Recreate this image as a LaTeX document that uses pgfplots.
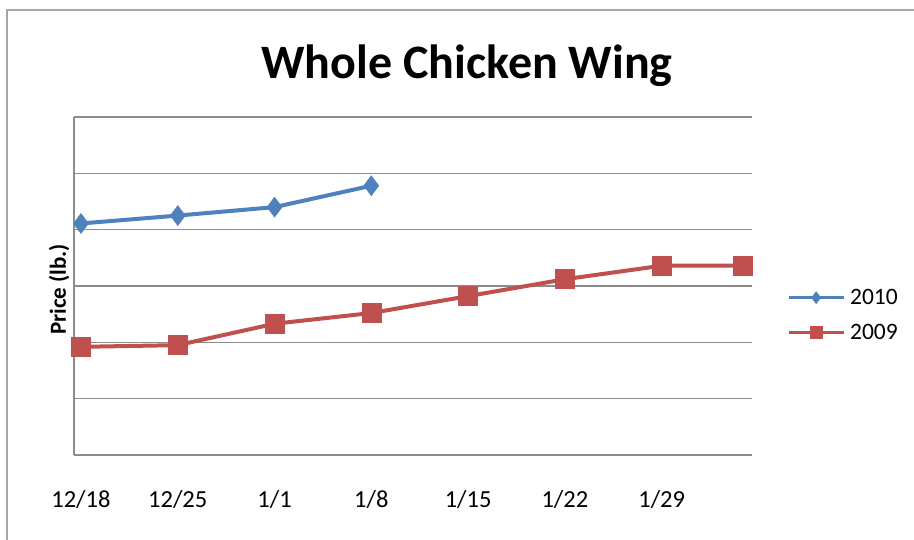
\documentclass[border=0pt]{standalone}
\usepackage{pgfplots}
\pgfplotsset{compat=1.18}
\usepackage{fontspec}
\setmainfont{Carlito}
\definecolor{exblue}{HTML}{4F81BD}
\definecolor{exred}{HTML}{C0504D}
\definecolor{gridgray}{HTML}{8C8C8C}
\begin{document}
\begin{tikzpicture}[x=1pt,y=1pt]
\useasboundingbox (0,0) rectangle (914,540);
\draw[draw=black!35, line width=1.5pt] (7,0) -- (7,530) -- (914,530);
\begin{axis}[
  at={(74pt,85pt)}, anchor=south west,
  scale only axis, width=677.7pt, height=338pt,
  xmin=-0.072, xmax=6.93, ymin=0, ymax=6,
  axis x line*=bottom, axis y line*=left,
  axis line style={gridgray, line width=1.3pt},
  ytick={0,1,2,3,4,5,6}, yticklabels={}, ymajorgrids,
  grid style={gridgray, line width=1.3pt},
  xtick={0,1,2,3,4,5,6},
  xticklabels={12/18,12/25,1/1,1/8,1/15,1/22,1/29},
  major tick length=0pt,
  xticklabel style={anchor=center, yshift=-45pt, font=\fontsize{24.5}{28}\selectfont},
  /pgf/number format/assume math mode=true,
  clip=false,
  title={Whole Chicken Wing},
  title style={at={(axis description cs:0.58,1.135)}, anchor=center, font=\fontsize{48}{54}\selectfont\bfseries},
  ylabel={Price (lb.)},
  ylabel style={at={(axis description cs:-0.022,0.49)}, anchor=center, font=\fontsize{23}{26}\selectfont\bfseries},
  legend style={at={(axis description cs:1.052,0.414)}, anchor=west, draw=none, fill=none,
    font=\fontsize{23.5}{26}\selectfont, row sep=14pt, inner sep=0pt,
    nodes={inner xsep=5pt}},
  legend cell align=left,
]
\addplot[color=exblue, line width=4pt, mark=diamond*, mark size=10pt, mark options={solid, fill=exblue, draw=exblue, line width=0.5pt},
  legend image code/.code={\draw[line width=3pt, mark size=6pt, mark repeat=2, mark phase=2] plot coordinates {(0pt,0pt) (27.5pt,0pt) (55pt,0pt)};}]
  coordinates {(0,4.11) (1,4.25) (2,4.40) (3,4.78)};
\addlegendentry{2010}
\addplot[color=exred, line width=4pt, mark=square*, mark size=9.5pt, mark options={solid, fill=exred, draw=exred, line width=0.5pt},
  legend image code/.code={\draw[line width=3pt, mark size=6pt, mark repeat=2, mark phase=2] plot coordinates {(0pt,0pt) (27.5pt,0pt) (55pt,0pt)};}]
  coordinates {(0,1.92) (1,1.95) (2,2.33) (3,2.52) (4,2.82) (5,3.12) (6,3.36) (6.84,3.36)};
\addlegendentry{2009}
\end{axis}
\end{tikzpicture}
\end{document}
